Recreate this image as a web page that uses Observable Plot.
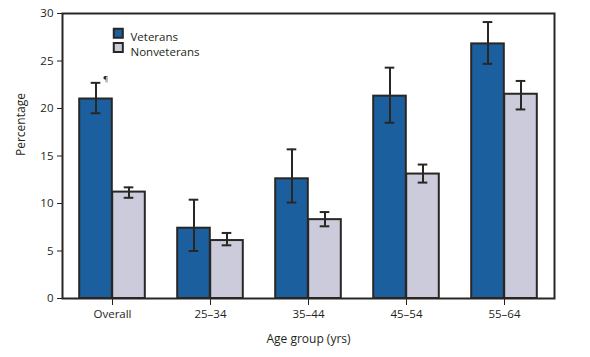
<!DOCTYPE html>
<html>
<head>
<meta charset="utf-8">
<script src="https://cdn.jsdelivr.net/npm/d3@7"></script>
<script src="https://cdn.jsdelivr.net/npm/@observablehq/plot@0.6"></script>
<style>
  html, body { margin: 0; padding: 0; background: #fff; }
  #chart { width: 590px; height: 357px; }
</style>
</head>
<body>
<div id="chart"></div>
<script>
const groups = ["Overall", "25–34", "35–44", "45–54", "55–64"];
const series = ["Veterans", "Nonveterans"];
const vetValue = [21.0, 7.4, 12.6, 21.3, 26.8];
const vetLow   = [19.5, 5.0, 10.1, 18.5, 24.7];
const vetHigh  = [22.7, 10.4, 15.7, 24.3, 29.1];
const nonValue = [11.2, 6.1, 8.3, 13.1, 21.5];
const nonLow   = [10.6, 5.6, 7.6, 12.2, 19.9];
const nonHigh  = [11.7, 6.9, 9.1, 14.1, 22.9];
const yTicks = [0, 5, 10, 15, 20, 25, 30];
const colors = ["#1b5f9e", "#cbcbdb"];
const xTitle = "Age group (yrs)";
const yTitle = "Percentage";

const vet = groups.map((g, i) => ({group: g, series: series[0], value: vetValue[i], lo: vetLow[i], hi: vetHigh[i]}));
const non = groups.map((g, i) => ({group: g, series: series[1], value: nonValue[i], lo: nonLow[i], hi: nonHigh[i]}));

const ink = "#2a2624";
const txt = "#231f20";
const half = 49.2, barW = 33, capW = 10, off = 16.5;
const font = "'Open Sans', Lato, sans-serif";

const chart = Plot.plot({
  width: 590,
  height: 357,
  marginLeft: 62,
  marginRight: 36,
  marginTop: 13,
  marginBottom: 59,
  style: {fontFamily: font, fontSize: "11.5px", color: txt, background: "#fff"},
  x: {domain: groups, padding: 0, tickSize: 7, tickPadding: 4, label: null},
  y: {domain: [0, 30], ticks: yTicks, tickSize: 5, tickPadding: 4, label: null},
  color: {domain: series, range: colors},
  marks: [
    Plot.barY(vet, {x: "group", y: "value", fill: "series", stroke: ink, strokeWidth: 2, insetLeft: half - barW, insetRight: half}),
    Plot.barY(non, {x: "group", y: "value", fill: "series", stroke: ink, strokeWidth: 2, insetLeft: half, insetRight: half - barW}),
    Plot.ruleX(vet, {x: "group", y1: "lo", y2: "hi", dx: -off, stroke: ink, strokeWidth: 2}),
    Plot.ruleX(non, {x: "group", y1: "lo", y2: "hi", dx: off, stroke: ink, strokeWidth: 2}),
    Plot.tickY(vet, {x: "group", y: "lo", stroke: ink, strokeWidth: 2, insetLeft: half - off - capW / 2, insetRight: half + off - capW / 2}),
    Plot.tickY(vet, {x: "group", y: "hi", stroke: ink, strokeWidth: 2, insetLeft: half - off - capW / 2, insetRight: half + off - capW / 2}),
    Plot.tickY(non, {x: "group", y: "lo", stroke: ink, strokeWidth: 2, insetLeft: half + off - capW / 2, insetRight: half - off - capW / 2}),
    Plot.tickY(non, {x: "group", y: "hi", stroke: ink, strokeWidth: 2, insetLeft: half + off - capW / 2, insetRight: half - off - capW / 2}),
    Plot.text([vet[0]], {x: "group", y: "hi", text: () => "¶", dx: -7, dy: -4, fontSize: 8, fill: ink}),
    Plot.frame({stroke: ink, strokeWidth: 2}),
    // legend
    Plot.dot([series[0]], {frameAnchor: "top-left", dx: 55.8, dy: 19.8, fill: colors[0], stroke: ink, strokeWidth: 2, symbol: "square", r: 5.1}),
    Plot.dot([series[1]], {frameAnchor: "top-left", dx: 55.8, dy: 34, fill: colors[1], stroke: ink, strokeWidth: 2, symbol: "square", r: 5.1}),
    Plot.text([series[0]], {frameAnchor: "top-left", dx: 68, dy: 19.8, text: d => d, textAnchor: "start", fontSize: 11.5, fill: txt}),
    Plot.text([series[1]], {frameAnchor: "top-left", dx: 68, dy: 34, text: d => d, textAnchor: "start", fontSize: 11.5, fill: txt}),
    // axis titles
    Plot.text([xTitle], {frameAnchor: "bottom", dy: 44, text: d => d, fontSize: 12, fill: txt}),
    Plot.text([yTitle], {frameAnchor: "left", dx: -41, text: d => d, rotate: -90, fontSize: 12, fill: txt})
  ]
});
document.getElementById("chart").append(chart);
</script>
</body>
</html>
